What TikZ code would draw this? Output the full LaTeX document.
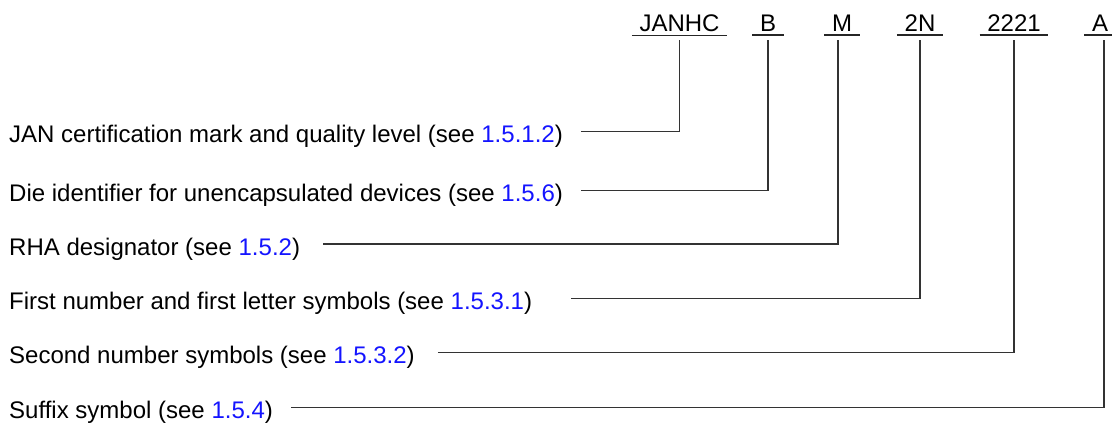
\documentclass[tikz,border=0pt]{standalone}
\usepackage{fontspec}
\setmainfont{Liberation Sans}
\usepackage{xcolor}
\usetikzlibrary{calc, positioning}
\definecolor{reflink}{RGB}{20,20,255}
\newcommand{\seeref}[1]{(see \textcolor{reflink}{#1})}

\begin{document}
\begin{tikzpicture}[x=1pt, y=-1pt, font=\fontsize{24pt}{28pt}\selectfont]

% TikZ styles
\tikzset{
  code/.style={inner xsep=7.5pt, inner ysep=3.3pt, anchor=base},
  desc/.style={anchor=west, inner xsep=9pt, inner ysep=0pt, text height=22pt, text depth=0pt},
  underline/.style={line width=1.6pt, draw=black!85},
  leader/.style={line width=1.1pt, draw=black!80, shorten <=9pt, shorten >=5pt}
}

\useasboundingbox (0,0) rectangle (1112,423);

%==========================
% Typenbezeichnung oben
%==========================
\node[code] (janhc) at (679.5,31.7) {JANHC};
\node[code] (die)   at (768,31.7)   {B};
\node[code] (rha)   at (842,31.7)   {M};
\node[code] (first) at (920,31.7)   {2N};
\node[code] (second) at (1014,31.7) {2221};
\node[code] (suffix) at (1100,31.7) {A};

\foreach \c in {janhc,die,rha,first,second,suffix}
  \draw[underline] (\c.south west) -- (\c.south east);

%==========================
% Erklaerungen links
%==========================
\node[desc] (janlbl)    at (0,131.5) {JAN certification mark and quality level \seeref{1.5.1.2}};
\node[desc] (dielbl)    at (0,190.5) {Die identifier for unencapsulated devices \seeref{1.5.6}};
\node[desc] (rhalbl)    at (0,244)   {RHA designator \seeref{1.5.2}};
\node[desc] (firstlbl)  at (0,298.5) {First number and first letter symbols \seeref{1.5.3.1}};
\node[desc] (secondlbl) at (0,352.5) {Second number symbols \seeref{1.5.3.2}};
\node[desc] (suffixlbl) at (0,407.5) {Suffix symbol \seeref{1.5.4}};

% Verbindungslinien
\draw[leader] (janlbl.east)    -| (janhc.south);
\draw[leader] (dielbl.east)    -| (die.south);
\draw[leader, shorten <=14pt] (rhalbl.east) -| ([xshift=-4pt]rha.south);
\draw[leader, shorten <=30pt] (firstlbl.east) -| (first.south);
\draw[leader, shorten <=14pt] (secondlbl.east) -| (second.south);
\draw[leader] (suffixlbl.east) -| ([xshift=4pt]suffix.south);
\end{tikzpicture}
\end{document}
